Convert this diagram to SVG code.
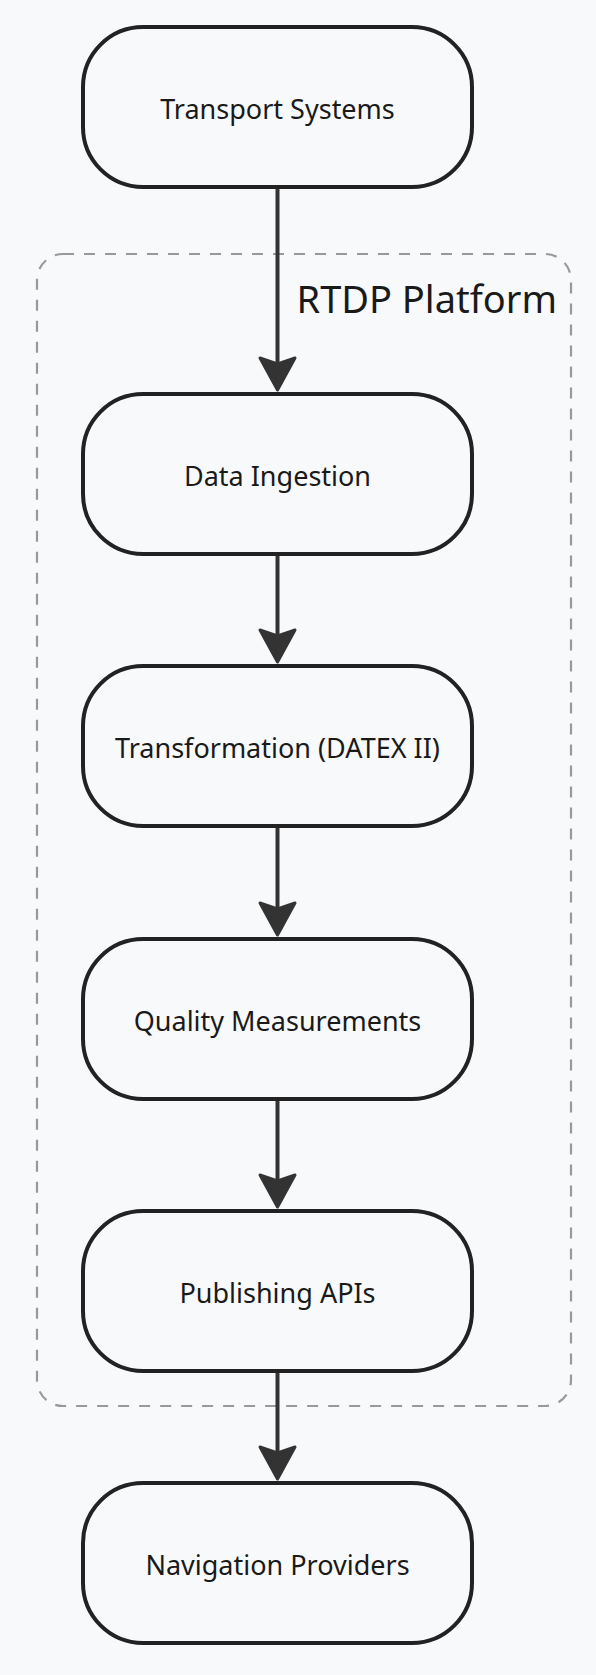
<svg xmlns="http://www.w3.org/2000/svg" width="596" height="1675" viewBox="0 0 596 1675">
<style>
.bg{fill:#f8f9fb}
.node rect{fill:#f8f9fb;stroke:#222;stroke-width:4}
.node text{font-family:"Noto Sans","Open Sans",sans-serif;font-size:27px;fill:#1a1a1a;text-anchor:middle}
.cluster rect{fill:none;stroke:#999;stroke-width:2.2;stroke-dasharray:11 10}
.cluster text{font-family:"Noto Sans","Open Sans",sans-serif;font-size:38px;fill:#1a1a1a;text-anchor:end}
.edge line{stroke:#333;stroke-width:4}
.edge polygon{fill:#333;stroke:#333;stroke-width:3;stroke-linejoin:round}
</style>
<rect class="bg" x="0" y="0" width="596" height="1675"/>
<g id="cluster-rtdp" class="cluster">
  <rect x="37" y="254" width="534" height="1152" rx="26" ry="26"/>
  <text x="557" y="313">RTDP Platform</text>
</g>
<g id="edges" class="edge">
  <line x1="277.5" y1="189" x2="277.5" y2="366"/>
  <polygon points="277.5,390 260,358 277.5,364 295,358"/>
  <line x1="277.5" y1="556" x2="277.5" y2="638"/>
  <polygon points="277.5,662 260,630 277.5,636 295,630"/>
  <line x1="277.5" y1="828" x2="277.5" y2="911"/>
  <polygon points="277.5,935 260,903 277.5,909 295,903"/>
  <line x1="277.5" y1="1101" x2="277.5" y2="1183"/>
  <polygon points="277.5,1207 260,1175 277.5,1181 295,1175"/>
  <line x1="277.5" y1="1373" x2="277.5" y2="1455"/>
  <polygon points="277.5,1479 260,1447 277.5,1453 295,1447"/>
</g>
<g id="node-transport" class="node">
  <rect x="83" y="27" width="389" height="160" rx="60" ry="60"/>
  <text x="277.5" y="118.5">Transport Systems</text>
</g>
<g id="node-ingestion" class="node">
  <rect x="83" y="394" width="389" height="160" rx="60" ry="60"/>
  <text x="277.5" y="485.5">Data Ingestion</text>
</g>
<g id="node-transformation" class="node">
  <rect x="83" y="666" width="389" height="160" rx="60" ry="60"/>
  <text x="277.5" y="757.5">Transformation (DATEX II)</text>
</g>
<g id="node-quality" class="node">
  <rect x="83" y="939" width="389" height="160" rx="60" ry="60"/>
  <text x="277.5" y="1030.5">Quality Measurements</text>
</g>
<g id="node-publishing" class="node">
  <rect x="83" y="1211" width="389" height="160" rx="60" ry="60"/>
  <text x="277.5" y="1302.5">Publishing APIs</text>
</g>
<g id="node-navigation" class="node">
  <rect x="83" y="1483" width="389" height="160" rx="60" ry="60"/>
  <text x="277.5" y="1574.5">Navigation Providers</text>
</g>
</svg>
